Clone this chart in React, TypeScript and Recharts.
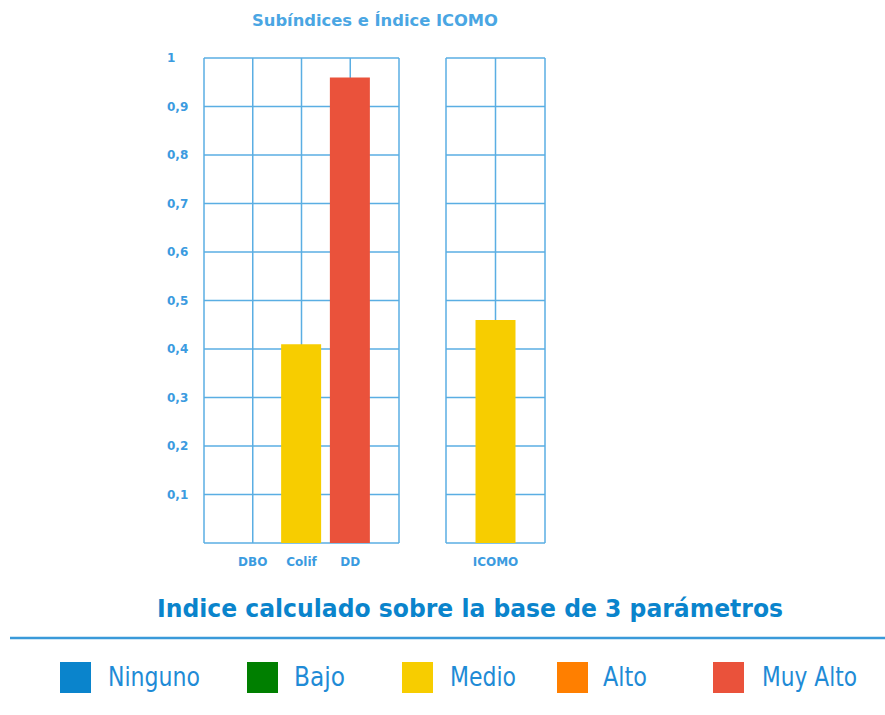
import React from "react";
import { BarChart, Bar, XAxis, YAxis, CartesianGrid, Cell } from "recharts";

// ---- data ----
const subCategories = ["DBO", "Colif", "DD"];
const subValues = [0, 0.41, 0.96];
const subLevels = ["Ninguno", "Medio", "Muy Alto"];

const indexCategories = ["ICOMO"];
const indexValues = [0.46];
const indexLevels = ["Medio"];

const legendLabels = ["Ninguno", "Bajo", "Medio", "Alto", "Muy Alto"];
const legendColors = ["#0a84cc", "#007f00", "#f7cd00", "#ff7f00", "#ea523b"];

const yTicks = [0, 0.1, 0.2, 0.3, 0.4, 0.5, 0.6, 0.7, 0.8, 0.9, 1];
const yTickLabels = ["", "0,1", "0,2", "0,3", "0,4", "0,5", "0,6", "0,7", "0,8", "0,9", "1"];

const chartTitle = "Subíndices e Índice ICOMO";
const bottomTitle = "Indice calculado sobre la base de 3 parámetros";

// ---- layout (not data) ----
const legendSquareX = [60, 247, 402, 557, 713];
const legendTextX = [108, 294, 450, 603, 762];
const legendTextW = [92, 51, 66, 44, 95];

const GRID = "#5aaee3";
const TICK = "#3b9be0";

const colorOf = (lvl: string) => legendColors[legendLabels.indexOf(lvl)];

const subData = subCategories.map((c, i) => ({ pos: i + 1, name: c, value: subValues[i], level: subLevels[i] }));
const idxData = indexCategories.map((c, i) => ({ pos: i + 1, name: c, value: indexValues[i], level: indexLevels[i] }));

const makeXTick = (names: string[]) => (props: any) => {
  const { x, y, payload } = props;
  const name = names[payload.value - 1];
  if (!name) return <g />;
  return (
    <text x={x} y={y + 23} textAnchor="middle" fill={TICK} fontSize={12} fontWeight="bold" fontFamily="DejaVu Sans, sans-serif">
      {name}
    </text>
  );
};

const YTick = (props: any) => {
  const { x, y, payload } = props;
  const idx = yTicks.findIndex((t) => Math.abs(t - payload.value) < 1e-9);
  const label = idx >= 0 ? yTickLabels[idx] : "";
  if (!label) return <g />;
  return (
    <text x={x - 37} y={y} dy="0.36em" textAnchor="start" fill={TICK} fontSize={12} fontWeight="bold" fontFamily="DejaVu Sans, sans-serif">
      {label}
    </text>
  );
};

export default function App() {
  return (
    <div style={{ position: "absolute", left: 0, top: 0, width: 885, height: 715, background: "#fff" }}>
      <div style={{ position: "absolute", left: 0, top: 0 }}>
        <BarChart width={420} height={600} data={subData} margin={{ top: 58, right: 21, bottom: 27, left: 160 }}>
          <CartesianGrid stroke={GRID} strokeWidth={1.5} />
          <XAxis
            dataKey="pos"
            type="number"
            domain={[0, 4]}
            ticks={[0, 1, 2, 3, 4]}
            height={30}
            axisLine={false}
            tickLine={false}
            tickSize={0}
            tickMargin={0}
            tick={makeXTick(subCategories)}
            interval={0}
          />
          <YAxis
            type="number"
            domain={[0, 1]}
            ticks={yTicks}
            width={44}
            axisLine={false}
            tickLine={false}
            tickSize={0}
            tickMargin={0}
            tick={<YTick />}
            interval={0}
          />
          <Bar dataKey="value" barSize={40} isAnimationActive={false}>
            {subData.map((d, i) => (
              <Cell key={i} fill={colorOf(d.level)} />
            ))}
          </Bar>
        </BarChart>
      </div>
      <div style={{ position: "absolute", left: 420, top: 0 }}>
        <BarChart width={160} height={600} data={idxData} margin={{ top: 58, right: 35, bottom: 27, left: 26 }}>
          <CartesianGrid stroke={GRID} strokeWidth={1.5} />
          <XAxis
            dataKey="pos"
            type="number"
            domain={[0, 2]}
            ticks={[0, 1, 2]}
            height={30}
            axisLine={false}
            tickLine={false}
            tickSize={0}
            tickMargin={0}
            tick={makeXTick(indexCategories)}
            interval={0}
          />
          <YAxis type="number" domain={[0, 1]} ticks={yTicks} hide />
          <Bar dataKey="value" barSize={40} isAnimationActive={false}>
            {idxData.map((d, i) => (
              <Cell key={i} fill={colorOf(d.level)} />
            ))}
          </Bar>
        </BarChart>
      </div>
      <svg width={885} height={715} style={{ position: "absolute", left: 0, top: 0, pointerEvents: "none" }}>
        <text
          x={252}
          y={26}
          fill="#4aa6e3"
          fontSize={15}
          fontWeight="bold"
          fontFamily="DejaVu Sans, sans-serif"
          textLength={246}
          lengthAdjust="spacingAndGlyphs"
        >
          {chartTitle}
        </text>
        <text
          x={157}
          y={617}
          fill="#0a84cc"
          fontSize={25}
          fontWeight="bold"
          fontFamily="'Liberation Sans Narrow', 'DejaVu Sans Condensed', sans-serif"
          textLength={626}
          lengthAdjust="spacingAndGlyphs"
        >
          {bottomTitle}
        </text>
        <line x1={10} x2={885} y1={638} y2={638} stroke="#3a9ad9" strokeWidth={2.5} />
        {legendLabels.map((l, i) => (
          <g key={l}>
            <rect x={legendSquareX[i]} y={662} width={31} height={31} fill={legendColors[i]} />
            <text
              x={legendTextX[i]}
              y={686}
              fill="#1f8bd6"
              fontSize={26}
              fontFamily="'Liberation Sans Narrow', 'DejaVu Sans Condensed', sans-serif"
              textLength={legendTextW[i]}
              lengthAdjust="spacingAndGlyphs"
            >
              {l}
            </text>
          </g>
        ))}
      </svg>
    </div>
  );
}
